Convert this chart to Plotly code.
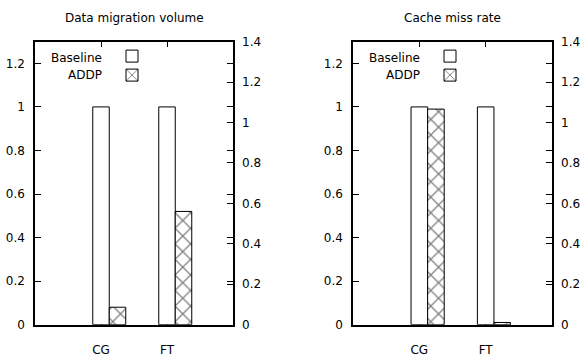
import plotly.graph_objects as go

categories = ["CG", "FT"]
series_names = ["Baseline", "ADDP"]
migration_baseline = [1.0, 1.0]
migration_addp = [0.08, 0.52]
cachemiss_baseline = [1.0, 1.0]
cachemiss_addp = [0.99, 0.01]
panel_titles = ["Data migration volume", "Cache miss rate"]

W, H = 586, 360
FONT = dict(family="DejaVu Sans", size=12, color="black")

fig = go.Figure()

panels = [
    dict(base=migration_baseline, addp=migration_addp, x="x", y="y", y2="y2", legend="legend"),
    dict(base=cachemiss_baseline, addp=cachemiss_addp, x="x2", y="y3", y2="y4", legend="legend2"),
]

for p in panels:
    fig.add_trace(go.Bar(
        x=categories, y=p["base"], name="", xaxis=p["x"], yaxis=p["y"],
        width=0.25, offset=-0.125, legend=p["legend"],
        marker=dict(color="white", line=dict(color="black", width=1)),
        hoverinfo="skip",
    ))
    fig.add_trace(go.Bar(
        x=categories, y=p["addp"], name="", xaxis=p["x"], yaxis=p["y"],
        width=0.25, offset=0.125, legend=p["legend"],
        marker=dict(color="white", line=dict(color="black", width=1),
                    pattern=dict(shape="x", size=11, solidity=0.22,
                                 fgcolor="black", bgcolor="white", fillmode="overlay")),
        hoverinfo="skip",
    ))
    # empty trace so the secondary (right) axis is drawn
    fig.add_trace(go.Scatter(
        x=categories, y=[None, None], xaxis=p["x"], yaxis=p["y2"],
        mode="markers", showlegend=False, hoverinfo="skip",
    ))

def px_x(v):
    return v / W

def px_y(v):
    return 1 - v / H

ydom = [px_y(330.5), px_y(36)]
xdoms = [[px_x(35), px_x(233)], [px_x(353), px_x(552)]]

common_x = dict(type="category", range=[-1, 2], ticks="inside", ticklen=6,
                mirror="ticks", showline=True, linecolor="black", linewidth=1.5,
                tickcolor="black", showgrid=False, zeroline=False, tickfont=FONT,
                ticklabelstandoff=13, layer="below traces")
common_y = dict(range=[0, 1.3], tick0=0, dtick=0.2, ticks="inside", ticklen=6,
                mirror="ticks", showline=True, linecolor="black", linewidth=1.5,
                tickcolor="black", showgrid=False, zeroline=False, tickfont=FONT,
                ticklabelstandoff=6)
common_y2 = dict(range=[0, 1.4], tick0=0, dtick=0.2, ticks="inside", ticklen=6,
                 side="right", showline=False, tickcolor="black",
                 showgrid=False, zeroline=False, tickfont=FONT, ticklabelstandoff=8)

LEGFONT = dict(family="DejaVu Sans", size=10)
fig.update_layout(
    width=W, height=H, margin=dict(l=0, r=0, t=0, b=0),
    paper_bgcolor="white", plot_bgcolor="white",
    barmode="overlay", font=FONT, showlegend=True,
    xaxis=dict(domain=xdoms[0], anchor="y", **common_x),
    yaxis=dict(domain=ydom, anchor="x", **common_y),
    yaxis2=dict(overlaying="y", anchor="x", **common_y2),
    xaxis2=dict(domain=xdoms[1], anchor="y3", **common_x),
    yaxis3=dict(domain=ydom, anchor="x2", **common_y),
    yaxis4=dict(overlaying="y3", anchor="x2", **common_y2),
    legend=dict(x=px_x(112), y=px_y(36), xanchor="left", yanchor="top",
                bgcolor="rgba(0,0,0,0)", font=LEGFONT, tracegroupgap=0),
    legend2=dict(x=px_x(430), y=px_y(36), xanchor="left", yanchor="top",
                 bgcolor="rgba(0,0,0,0)", font=LEGFONT, tracegroupgap=0),
)

annotations = []
for i, t in enumerate(panel_titles):
    cx = (xdoms[i][0] + xdoms[i][1]) / 2
    annotations.append(dict(text=t, x=cx, y=px_y(11), xref="paper", yref="paper",
                            showarrow=False, xanchor="center", yanchor="middle", font=FONT))
    for j, nm in enumerate(series_names):
        annotations.append(dict(text=nm, x=xdoms[i][0] + px_x(69), y=px_y(53 + 17.3 * j),
                                xref="paper", yref="paper", showarrow=False,
                                xanchor="right", yanchor="middle", font=FONT))
fig.update_layout(annotations=annotations)

fig.write_html("out.html")
